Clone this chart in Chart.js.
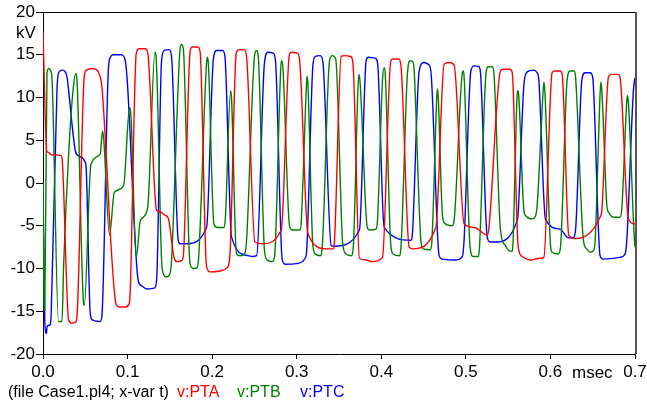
<!DOCTYPE html>
<html>
<head>
<meta charset="utf-8">
<script src="https://cdn.jsdelivr.net/npm/chart.js@4/dist/chart.umd.min.js"></script>
<style>
  html, body { margin: 0; padding: 0; background: #fff; }
  #plot { display: block; }
</style>
</head>
<body>
<canvas id="plot" width="647" height="408"></canvas>
<script>
// time in msec, voltage in kV
const ptaTime = [0, 0.0045, 0.0063, 0.0098, 0.0213, 0.0228, 0.0303, 0.0346, 0.0382, 0.0400,
  0.0488, 0.0512, 0.0583, 0.0642, 0.0677, 0.0695, 0.0866, 0.0902, 0.0974, 0.1020,
  0.1032, 0.1103, 0.1138, 0.1209, 0.1239, 0.1343, 0.1387, 0.1446, 0.1481, 0.1552,
  0.1588, 0.1647, 0.1664, 0.1741, 0.1765, 0.1836, 0.1859, 0.1934, 0.1978, 0.2096,
  0.2179, 0.2210, 0.2285, 0.2320, 0.2379, 0.2407, 0.2506, 0.2592, 0.2817, 0.2915,
  0.2947, 0.3006, 0.3033, 0.3132, 0.3349, 0.3428, 0.3447, 0.3526, 0.3573, 0.3638,
  0.3664, 0.3742, 0.3822, 0.3893, 0.4014, 0.4113, 0.4141, 0.4206, 0.4232, 0.4330,
  0.4369, 0.4645, 0.4743, 0.4802, 0.4861, 0.4980, 0.5098, 0.5252, 0.5272, 0.5409,
  0.5441, 0.5523, 0.5548, 0.5619, 0.5666, 0.5760, 0.5879, 0.5922, 0.6020, 0.6056,
  0.6115, 0.6139, 0.6217, 0.6292, 0.6587, 0.6608, 0.6686, 0.6718, 0.6800, 0.6824,
  0.6922, 0.7000];
const ptaKv = [17.6, 3.7, 3.6, 3.3, 3.2, 2.6, -16.0, -16.4, -16.3, -15.8,
  12.5, 13.2, 13.4, 13.2, 12.4, 11.4, -14.2, -14.5, -14.5, -14.1,
  -12.5, 15.2, 15.7, 15.7, 15.2, -3.2, -3.4, -3.8, -4.1, -8.8,
  -9.2, -9.0, -7.9, 15.5, 15.9, 15.9, 15.2, -9.8, -10.4, -10.3,
  -9.9, -8.5, 15.2, 15.6, 15.6, 14.8, -6.9, -7.1, -5.5, 15.1,
  15.3, 15.2, 14.5, -5.9, -7.7, -7.7, -6.7, 14.8, 14.9, 14.8,
  14.1, -8.8, -9.0, -9.2, -8.7, 14.3, 14.5, 14.5, 13.8, -7.5,
  -7.7, -5.2, 13.9, 14.1, 13.8, -4.8, -5.2, -6.1, -5.3, 13.1,
  13.3, 13.3, 12.9, -7.5, -8.6, -9.0, -8.8, -8.7, 12.9, 13.1,
  13.1, 12.7, -6.1, -6.5, -4.0, -3.2, 12.4, 12.7, 12.7, 12.3,
  -4.2, -4.8];

const ptbTime = [0, 0.0012, 0.0021, 0.0047, 0.0069, 0.0092, 0.0106, 0.0184, 0.0225, 0.0243,
  0.0303, 0.0358, 0.0388, 0.0402, 0.0480, 0.0488, 0.0567, 0.0677, 0.0704, 0.0719,
  0.0787, 0.0843, 0.0953, 0.1024, 0.1038, 0.1103, 0.1151, 0.1236,
  0.1324, 0.1336, 0.1402, 0.1422, 0.1457, 0.1501, 0.1520, 0.1619, 0.1635, 0.1658,
  0.1738, 0.1777, 0.1824, 0.1842, 0.1934, 0.1946, 0.1957, 0.2021, 0.2060, 0.2143,
  0.2158, 0.2218, 0.2229, 0.2288, 0.2332, 0.2388, 0.2407, 0.2506, 0.2527, 0.2545,
  0.2619, 0.2651, 0.2710, 0.2738, 0.2805, 0.2817, 0.2837, 0.2915, 0.2947, 0.3041,
  0.3053, 0.3112, 0.3121, 0.3132, 0.3191, 0.3219, 0.3278, 0.3301, 0.3388, 0.3420,
  0.3461, 0.3546, 0.3585, 0.3644, 0.3668, 0.3723, 0.3735, 0.3750, 0.3821, 0.3837,
  0.3869, 0.3936, 0.3955, 0.4014, 0.4034, 0.4046, 0.4113, 0.4141, 0.4212, 0.4232,
  0.4310, 0.4342, 0.4377, 0.4389, 0.4468, 0.4495, 0.4578, 0.4596, 0.4657, 0.4664,
  0.4673, 0.4723, 0.4749, 0.4838, 0.4861, 0.4959, 0.4971, 0.4980, 0.5051, 0.5087,
  0.5146, 0.5161, 0.5232, 0.5264, 0.5311, 0.5331, 0.5409, 0.5465, 0.5508, 0.5547,
  0.5556, 0.5606, 0.5615, 0.5626, 0.5686, 0.5705, 0.5784, 0.5823, 0.5843, 0.5914,
  0.5922, 0.5934, 0.6001, 0.6020, 0.6091, 0.6118, 0.6197, 0.6233, 0.6280, 0.6296,
  0.6390, 0.6430, 0.6469, 0.6509, 0.6529, 0.6588, 0.6596, 0.6608, 0.6667, 0.6686,
  0.6765, 0.6824, 0.6844, 0.6903, 0.6910, 0.6922, 0.6993, 0.7000];
const ptbKv = [0, -13.7, -14.9, 12.9, 13.4, 13.1, 12.3, -16.2, -16.2, -9.9,
  3.4, 11.1, 12.8, 12.0, -14.1, -14.3, 2.2, 3.4, 6.1, 5.0,
  -6.1, -1.1, -0.3, 8.8, 8.2, -8.7, -4.4, -3.0,
  15.3, 14.9, -9.0, -10.6, -11.0, -10.6, -9.0, 15.5, 16.2, 15.8,
  -9.4, -10.0, -9.9, -8.5, 14.1, 14.7, 13.7, -4.8, -5.2, -5.2,
  -3.8, 10.8, 10.0, -8.3, -8.5, -8.2, -6.7, 15.2, 15.5, 14.9,
  -7.9, -9.0, -9.2, -8.6, 12.0, 14.3, 13.4, -5.0, -5.5, -5.5,
  -4.6, 10.8, 12.5, 11.7, -7.3, -8.3, -8.5, -7.6, 14.3, 14.9,
  14.5, -7.3, -8.3, -8.5, -7.6, 10.8, 12.7, 11.7, -3.8, -5.3,
  -5.5, -5.4, -4.4, 12.0, 13.5, 12.9, -7.3, -8.3, -8.5, -7.6,
  12.9, 14.3, 14.1, 13.1, -6.7, -7.7, -7.8, -7.1, 10.2, 11.0,
  10.2, -3.8, -4.7, -5.0, -4.4, 12.9, 13.1, 12.3, -7.6, -8.6,
  -8.6, -7.6, 12.0, 13.6, 13.6, 12.9, -5.5, -7.3, -7.9, -8.0,
  -7.3, 10.2, 10.8, 10.1, -3.2, -3.8, -4.2, -3.9, -2.6, 10.8,
  11.8, 10.8, -7.3, -8.1, -8.3, -7.6, 12.0, 13.1, 13.1, 12.5,
  -6.7, -7.7, -8.1, -7.9, -6.7, 10.6, 11.8, 10.8, -2.6, -3.4,
  -4.0, -4.0, -3.0, 9.6, 10.2, 9.4, -6.7, -7.5];

const ptcTime = [0, 0.0021, 0.0039, 0.0051, 0.0086, 0.0098, 0.0165, 0.0184, 0.0228, 0.0264,
  0.0287, 0.0303, 0.0382, 0.0417, 0.0500, 0.0512, 0.0559, 0.0583, 0.0677, 0.0697,
  0.0772, 0.0796, 0.0831, 0.0926, 0.0973, 0.0996, 0.1126, 0.1162, 0.1233, 0.1316,
  0.1343, 0.1402, 0.1434, 0.1493, 0.1520, 0.1599, 0.1623, 0.1697, 0.1934, 0.2013,
  0.2052, 0.2125, 0.2151, 0.2229, 0.2427, 0.2474, 0.2527, 0.2619, 0.2660, 0.2722,
  0.2749, 0.2829, 0.2864, 0.3018, 0.3100, 0.3118, 0.3191, 0.3219, 0.3279, 0.3310,
  0.3408, 0.3443, 0.3742, 0.3821, 0.3845, 0.3928, 0.3955, 0.4034, 0.4350, 0.4369,
  0.4448, 0.4507, 0.4554, 0.4586, 0.4684, 0.4720, 0.4873, 0.4959, 0.4979, 0.5059,
  0.5098, 0.5154, 0.5173, 0.5252, 0.5287, 0.5350, 0.5607, 0.5619, 0.5686, 0.5725,
  0.5796, 0.5843, 0.5863, 0.5941, 0.6115, 0.6209, 0.6268, 0.6296, 0.6371, 0.6410,
  0.6469, 0.6499, 0.6587, 0.6623, 0.6824, 0.6883, 0.6903, 0.6981, 0.7000];
const ptcKv = [0, -16.0, -17.6, -16.7, -16.6, -14.9, 10.8, 12.9, 13.2, 13.0,
  12.2, 10.8, 3.8, 3.2, 2.4, 1.5, -15.3, -16.0, -16.2, -15.5,
  13.1, 14.7, 15.0, 15.0, 14.3, 12.0, -11.4, -12.0, -12.4, -12.3,
  -11.4, 14.3, 15.5, 15.6, 14.8, -6.7, -7.1, -7.1, -5.2, 14.3,
  15.5, 15.5, 14.8, -6.3, -8.5, -8.6, -8.5, 14.1, 15.3, 15.2,
  14.3, -9.0, -9.5, -9.4, -8.8, -7.9, 13.7, 14.8, 14.9, 14.1,
  -7.3, -7.4, -5.5, 14.3, 14.7, 14.6, 14.1, -5.2, -6.7, -5.8,
  13.1, 14.1, 13.9, 13.1, -8.5, -8.9, -9.0, -8.6, -6.7, 13.1,
  13.7, 13.6, 12.9, -6.3, -6.9, -6.9, -4.4, -3.4, 11.4, 13.0,
  13.2, 12.9, 12.0, -4.2, -5.4, -6.4, -6.4, -5.6, 12.0, 12.9,
  12.9, 12.4, -8.5, -8.9, -8.7, -8.3, -6.7, 10.8, 12.3];

const xTickValues = [0, 0.1, 0.2, 0.3, 0.4, 0.5, 0.6, 0.7];
const yTickValues = [-20, -15, -10, -5, 0, 5, 10, 15, 20];
const fileNote = '(file Case1.pl4; x-var t)';

const FONT = '"Liberation Sans", Arial, sans-serif';

function toPoints(ts, vs) {
  return ts.map((t, i) => ({ x: t, y: vs[i] }));
}

function series(label, ts, vs, color) {
  return {
    label: label,
    data: toPoints(ts, vs),
    borderColor: color,
    backgroundColor: color,
    borderWidth: 1.4,
    pointRadius: 0,
    cubicInterpolationMode: 'monotone',
    showLine: true
  };
}

// frame, unit labels and the file / variable line under the axis
const extras = {
  id: 'extras',
  afterDraw(chart) {
    const ctx = chart.ctx;
    const a = chart.chartArea;
    ctx.save();
    ctx.lineWidth = 1;
    ctx.strokeStyle = '#000';
    ctx.beginPath();
    ctx.moveTo(a.left, a.top + 0.5);
    ctx.lineTo(a.right, a.top + 0.5);
    ctx.stroke();
    ctx.lineWidth = 2;
    ctx.strokeStyle = '#555';
    ctx.beginPath();
    ctx.moveTo(a.right + 1, a.top);
    ctx.lineTo(a.right + 1, a.bottom);
    ctx.stroke();

    ctx.fillStyle = '#000';
    ctx.font = '17px ' + FONT;
    ctx.textBaseline = 'middle';
    ctx.textAlign = 'center';
    ctx.fillText('kV', 26, 33);
    ctx.textAlign = 'left';
    ctx.fillText('msec', 572, 373);

    ctx.font = '16px ' + FONT;
    ctx.fillText(fileNote, 8, 393);
    const spots = [177, 237, 300];
    chart.data.datasets.forEach((ds, i) => {
      ctx.fillStyle = ds.borderColor;
      ctx.fillText(ds.label, spots[i], 393);
    });
    ctx.restore();
  }
};

new Chart(document.getElementById('plot'), {
  type: 'scatter',
  data: {
    datasets: [
      series('v:PTA', ptaTime, ptaKv, '#ff0000'),
      series('v:PTB', ptbTime, ptbKv, '#008000'),
      series('v:PTC', ptcTime, ptcKv, '#0000ff')
    ]
  },
  options: {
    responsive: false,
    animation: false,
    layout: { padding: { left: 0, right: 12, top: 12, bottom: 0 } },
    scales: {
      x: {
        type: 'linear',
        min: 0,
        max: 0.7,
        afterBuildTicks: s => { s.ticks = xTickValues.map(v => ({ value: v })); },
        afterFit: s => { s.height = 54; s.paddingLeft = 0; s.paddingRight = 0; },
        ticks: {
          autoSkip: false,
          maxRotation: 0,
          padding: 3,
          color: '#000',
          font: { family: FONT, size: 17 },
          callback: v => v.toFixed(1)
        },
        grid: { drawOnChartArea: false, tickLength: 5, color: '#000' },
        border: { color: '#000', width: 1 }
      },
      y: {
        min: -20,
        max: 20,
        afterBuildTicks: s => { s.ticks = yTickValues.map(v => ({ value: v })); },
        afterFit: s => { s.width = 43; s.paddingTop = 0; s.paddingBottom = 0; },
        ticks: {
          autoSkip: false,
          padding: 1,
          color: '#000',
          font: { family: FONT, size: 17 },
          callback: v => String(v)
        },
        grid: { drawOnChartArea: false, tickLength: 7, color: '#000' },
        border: { color: '#000', width: 1 }
      }
    },
    plugins: {
      legend: { display: false },
      tooltip: { enabled: false }
    }
  },
  plugins: [extras]
});
</script>
</body>
</html>
